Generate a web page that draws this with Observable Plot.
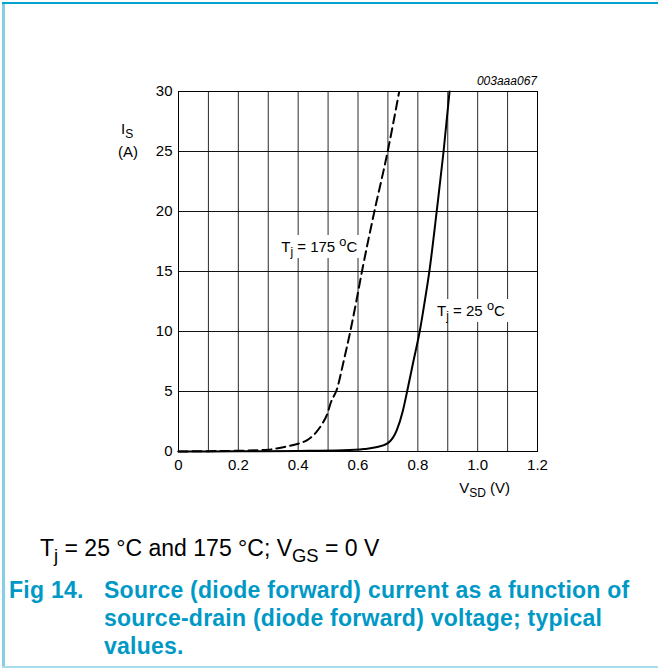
<!DOCTYPE html>
<html>
<head>
<meta charset="utf-8">
<script src="https://cdn.jsdelivr.net/npm/d3@7"></script>
<script src="https://cdn.jsdelivr.net/npm/@observablehq/plot@0.6"></script>
<style>
  html, body { margin: 0; padding: 0; background: #fff; }
  #page { position: relative; width: 658px; height: 669px; overflow: hidden; font-family: "Liberation Sans", Arial, sans-serif; color: #000; }
  #bleft { position: absolute; left: 2px; top: 2px; width: 3px; height: 665px; background: #86cfe2; }
  #btop { position: absolute; left: 2px; top: 2px; width: 656px; height: 2px; background: #00a4cf; }
  #bbot { position: absolute; left: 2px; top: 666px; width: 656px; height: 2px; background: #a8dcea; }
  #chart { position: absolute; left: 0; top: 0; }
  #chart svg text { font-size: 15px !important; font-family: "Liberation Sans", Arial, sans-serif !important; fill: #000; }
  .lbl { position: absolute; white-space: nowrap; line-height: 1; }
  .lbl sub { font-size: 0.8em; vertical-align: -0.35em; line-height: 0; }
  .lbl sup { font-size: 0.85em; vertical-align: 0.45em; line-height: 0; }
  .ann { background: #fff; padding: 4px 6px; }
  #cond { position: absolute; left: 40px; top: 537px; font-size: 23px; white-space: nowrap; line-height: 1; }
  #cond sub { font-size: 0.8em; vertical-align: -0.3em; line-height: 0; }
  #cap { position: absolute; left: 9px; top: 576px; font-size: 23px; font-weight: bold; color: #0099c6; line-height: 28px; white-space: nowrap; letter-spacing: 0.25px; }
  #cap .num { position: absolute; left: 0; top: 0; }
  #cap .body { margin-left: 95px; }
</style>
</head>
<body>
<div id="page">
  <div id="bleft"></div><div id="btop"></div><div id="bbot"></div>
  <div id="chart"></div>
  <div id="cond">T<sub>j</sub> = 25 °C and 175 °C; V<sub>GS</sub> = 0 V</div>
  <div id="cap"><span class="num">Fig 14.</span><div class="body">Source (diode forward) current as a function of<br>source-drain (diode forward) voltage; typical<br>values.</div></div>
</div>
<script>
// ---- data ----
const vsd25 = [0, 0.2, 0.4, 0.55, 0.62, 0.66, 0.70, 0.73, 0.75, 0.765, 0.785, 0.807, 0.823, 0.839, 0.863, 0.886, 0.906];
const is25  = [0, 0.02, 0.05, 0.1, 0.2, 0.35, 0.7, 1.8, 3.4, 5.1, 7.5, 10.1, 12.5, 15.1, 20.0, 25.0, 30.0];
const vsd175 = [0, 0.1, 0.2, 0.3, 0.35, 0.4, 0.43, 0.46, 0.48, 0.497, 0.508, 0.531, 0.55, 0.575, 0.595, 0.614, 0.653, 0.70, 0.737];
const is175  = [0, 0.03, 0.06, 0.15, 0.36, 0.65, 0.95, 1.6, 2.3, 3.1, 4.0, 5.3, 7.3, 10.1, 12.6, 15.1, 19.8, 25.1, 29.9];
const xTicks = [0, 0.2, 0.4, 0.6, 0.8, 1.0, 1.2];
const xTickLabels = ["0", "0.2", "0.4", "0.6", "0.8", "1.0", "1.2"];
const yTicks = [0, 5, 10, 15, 20, 25, 30];
const xGrid = [0.1, 0.2, 0.3, 0.4, 0.5, 0.6, 0.7, 0.8, 0.9, 1.0, 1.1];
const yGrid = [5, 10, 15, 20, 25];
const labels = [
  {x: 0.345, y: 16.6, html: "T<sub>j</sub> = 175 <sup>o</sup>C"},
  {x: 0.866, y: 11.3, html: "T<sub>j</sub> = 25 <sup>o</sup>C"}
];

const d25 = vsd25.map((v, i) => ({v, i: is25[i]}));
const d175 = vsd175.map((v, i) => ({v, i: is175[i]}));

const plot = Plot.plot({
  width: 658, height: 500,
  marginLeft: 178, marginRight: 121, marginTop: 91, marginBottom: 49,
  style: {fontFamily: "'Liberation Sans', Arial, sans-serif", fontSize: "15px", color: "#000", background: "transparent"},
  x: {domain: [0, 1.2], ticks: xTicks, tickFormat: d => xTickLabels[xTicks.findIndex(t => Math.abs(t - d) < 1e-9)], tickSize: 0, tickPadding: 8, label: null},
  y: {domain: [0, 30], ticks: yTicks, tickSize: 0, tickPadding: 6, label: null},
  marks: [
    Plot.ruleX(xGrid, {stroke: "#2a2a2a", strokeWidth: 1}),
    Plot.ruleY(yGrid, {stroke: "#111", strokeWidth: 1}),
    Plot.frame({stroke: "#000", strokeWidth: 1}),
    Plot.line(d175, {x: "v", y: "i", curve: "monotone-x", stroke: "#000", strokeWidth: 2, strokeDasharray: "9,5"}),
    Plot.line(d25, {x: "v", y: "i", curve: "monotone-x", stroke: "#000", strokeWidth: 2})
  ]
});
document.getElementById("chart").appendChild(plot);

const sx = plot.scale("x"), sy = plot.scale("y");
const page = document.getElementById("page");
function addLabel(html, left, baseline, fs, cls) {
  const d = document.createElement("div");
  d.className = "lbl" + (cls ? " " + cls : "");
  d.style.fontSize = fs + "px";
  d.innerHTML = html;
  page.appendChild(d);
  const pad = cls === "ann" ? 4 : 0;
  const padX = cls === "ann" ? 6 : 0;
  d.style.left = (left - padX) + "px";
  d.style.top = (baseline - 0.85 * fs - pad) + "px";
  return d;
}
labels.forEach(l => addLabel(l.html, sx.apply(l.x), sy.apply(l.y), 15, "ann"));
// axis titles, placed relative to the scales
addLabel("I<sub>S</sub>", sx.apply(0) - 57, sy.apply(30) + 43, 15);
addLabel("(A)", sx.apply(0) - 60, sy.apply(25) + 6, 15);
addLabel("V<sub>SD</sub> (V)", sx.apply(0.94), sy.apply(0) + 42, 15);
const code = addLabel("003aaa067", 0, sy.apply(30) - 6, 12);
code.style.fontStyle = "italic";
code.style.left = (sx.apply(1.2) - code.getBoundingClientRect().width) + "px";
</script>
</body>
</html>
